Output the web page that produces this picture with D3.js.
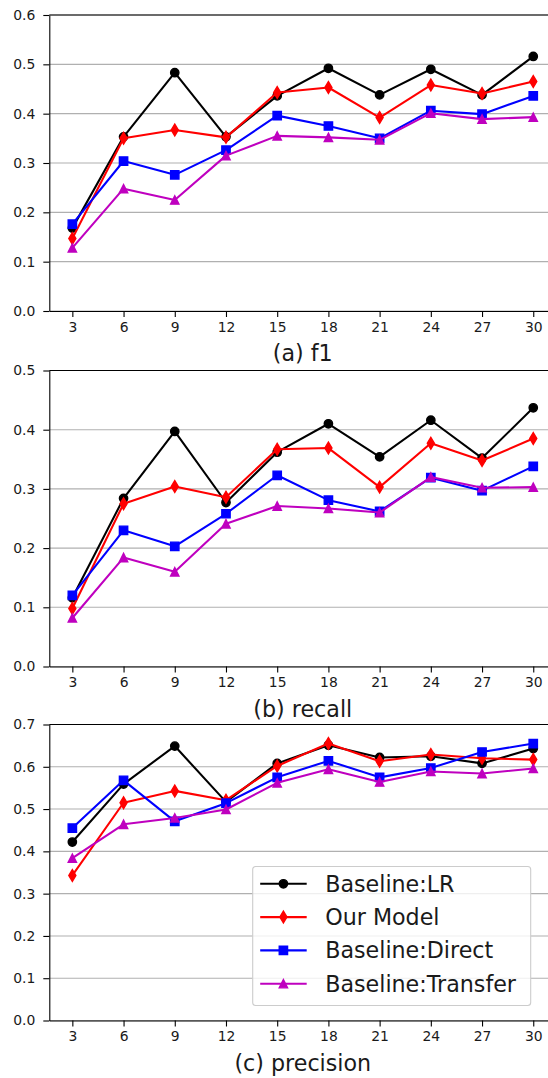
<!DOCTYPE html>
<html>
<head>
<meta charset="utf-8">
<script src="https://cdn.jsdelivr.net/npm/d3@7"></script>
<style>
  body { margin: 0; background: #fff; }
  svg { display: block; font-family: "DejaVu Sans", sans-serif; }
</style>
</head>
<body>
<svg></svg>
<script>
// x values (window size) shared by all three panels
let xValues = [3, 6, 9, 12, 15, 18, 21, 24, 27, 30]
let seriesNames = ["Baseline:LR", "Our Model", "Baseline:Direct", "Baseline:Transfer"]
let panelTitles = ["(a) f1", "(b) recall", "(c) precision"]
let yMaxes = [0.6, 0.5, 0.7]

// (a) f1
let f1LR       = [0.168, 0.353, 0.483, 0.353, 0.436, 0.492, 0.438, 0.490, 0.438, 0.516]
let f1Model    = [0.147, 0.350, 0.367, 0.352, 0.443, 0.453, 0.392, 0.458, 0.441, 0.465]
let f1Direct   = [0.176, 0.304, 0.276, 0.326, 0.396, 0.375, 0.350, 0.406, 0.399, 0.436]
let f1Transfer = [0.128, 0.248, 0.225, 0.315, 0.355, 0.352, 0.347, 0.401, 0.389, 0.393]

// (b) recall
let recLR       = [0.116, 0.284, 0.397, 0.277, 0.362, 0.410, 0.354, 0.416, 0.352, 0.437]
let recModel    = [0.098, 0.275, 0.304, 0.286, 0.367, 0.369, 0.303, 0.377, 0.348, 0.385]
let recDirect   = [0.120, 0.230, 0.203, 0.258, 0.323, 0.281, 0.262, 0.319, 0.297, 0.338]
let recTransfer = [0.082, 0.184, 0.160, 0.241, 0.271, 0.267, 0.260, 0.320, 0.302, 0.303]

// (c) precision
let precLR       = [0.422, 0.559, 0.649, 0.517, 0.608, 0.651, 0.622, 0.625, 0.608, 0.643]
let precModel    = [0.343, 0.515, 0.543, 0.521, 0.602, 0.655, 0.613, 0.629, 0.620, 0.617]
let precDirect   = [0.455, 0.568, 0.471, 0.514, 0.575, 0.614, 0.575, 0.597, 0.635, 0.655]
let precTransfer = [0.384, 0.464, 0.479, 0.499, 0.562, 0.594, 0.564, 0.589, 0.584, 0.596]

let panelData = [
  [f1LR, f1Model, f1Direct, f1Transfer],
  [recLR, recModel, recDirect, recTransfer],
  [precLR, precModel, precDirect, precTransfer]
]

let colors = ["#000000", "#ff0000", "#0000ff", "#bf00bf"]
let markers = ["circle", "thindiamond", "square", "triangle"]

let width = 548
let height = 1078
let left = 49.3
let right = 556.3          // right spine sits just past the window edge
let panelTops = [15, 370.5, 724.5]
let panelHeight = 296

let svg = d3.select("svg")
svg.attr("width", width)
svg.attr("height", height)

// matplotlib-like default marker (markersize 6pt at 100dpi)
let ms = 8.33
let markerPath = (type) => {
  let h = ms / 2
  if (type == "circle") {
    return d3.path().toString() // unused, circles drawn as <circle>
  } else if (type == "square") {
    return `M${-h},${-h}L${h},${-h}L${h},${h}L${-h},${h}Z`
  } else if (type == "thindiamond") {
    let dy = ms * Math.SQRT1_2
    let dx = dy * 0.6
    return `M0,${-dy}L${dx},0L0,${dy}L${-dx},0Z`
  } else {
    return `M0,${-h}L${h},${h}L${-h},${h}Z`
  }
}

let drawMarker = (g, type, color) => {
  if (type == "circle") {
    g.append("circle").attr("r", ms / 2)
      .attr("fill", color).attr("stroke", color).attr("stroke-width", 1.39)
  } else {
    g.append("path").attr("d", markerPath(type))
      .attr("fill", color).attr("stroke", color).attr("stroke-width", 1.39)
      .attr("stroke-linejoin", "miter")
  }
}

let xScale = d3.scaleLinear()
  .domain([3 - 1.35, 30 + 1.35])
  .range([left, right])

let drawPanel = (p) => {
  let top = panelTops[p]
  let bottom = top + panelHeight
  let yScale = d3.scaleLinear()
    .domain([0, yMaxes[p]])
    .range([bottom, top])

  let g = svg.append("g").attr("class", "panel")
  let yTicks = d3.range(0, yMaxes[p] + 0.001, 0.1)

  // horizontal grid
  g.append("g").selectAll("line")
    .data(yTicks)
    .enter()
    .append("line")
    .attr("x1", left).attr("x2", right)
    .attr("y1", (d) => yScale(d)).attr("y2", (d) => yScale(d))
    .attr("stroke", "#b0b0b0")
    .attr("stroke-width", 1.1)

  // lines + markers
  panelData[p].forEach((vals, s) => {
    let pts = xValues.map((x, i) => [x, vals[i]])
    let line = d3.line()
      .x((d) => xScale(d[0]))
      .y((d) => yScale(d[1]))
    let sg = g.append("g")
    sg.append("path")
      .datum(pts)
      .attr("d", line)
      .attr("fill", "none")
      .attr("stroke", colors[s])
      .attr("stroke-width", 2.08)
      .attr("stroke-linejoin", "round")
    sg.selectAll("g.mk")
      .data(pts)
      .enter()
      .append("g")
      .attr("class", "mk")
      .attr("transform", (d) => "translate(" + xScale(d[0]) + "," + yScale(d[1]) + ")")
      .each(function () { drawMarker(d3.select(this), markers[s], colors[s]) })
  })

  // axes
  let yAxis = d3.axisLeft(yScale)
    .tickValues(yTicks)
    .tickFormat(d3.format(".1f"))
    .tickSize(6)
    .tickSizeOuter(0)
    .tickPadding(8)
  let yg = g.append("g")
    .attr("transform", "translate(" + left + ",0)")
    .call(yAxis)

  let xAxis = d3.axisBottom(xScale)
    .tickValues(xValues)
    .tickSize(6)
    .tickSizeOuter(0)
    .tickPadding(5)
  let xg = g.append("g")
    .attr("transform", "translate(0," + bottom + ")")
    .call(xAxis)

  ;[yg, xg].forEach((a) => {
    a.select(".domain").attr("stroke", "#000").attr("stroke-width", 1.1)
    a.selectAll(".tick line").attr("stroke", "#000").attr("stroke-width", 1.1)
    a.selectAll(".tick text")
      .attr("fill", "#1a1a1a")
      .style("font-size", "13.9px")
      .style("font-family", "DejaVu Sans")
  })

  // top spine
  g.append("line")
    .attr("x1", left).attr("x2", right)
    .attr("y1", top).attr("y2", top)
    .attr("stroke", "#000").attr("stroke-width", 1.1)

  // panel label under the axis
  g.append("text")
    .attr("x", (left + right) / 2)
    .attr("y", bottom + 42.5)
    .attr("dy", "0.36em")
    .attr("text-anchor", "middle")
    .attr("fill", "#1a1a1a")
    .style("font-size", "22.2px")
    .text(panelTitles[p])

  return { yScale, top, bottom }
}

let drawLegend = (panel) => {
  let boxRight = right - 25.6
  let boxBottom = panel.bottom - 15
  let boxW = 278
  let boxH = 139
  let lg = svg.append("g")
    .attr("transform", "translate(" + (boxRight - boxW) + "," + (boxBottom - boxH) + ")")
  lg.append("rect")
    .attr("width", boxW).attr("height", boxH)
    .attr("rx", 3).attr("ry", 3)
    .attr("fill", "#fff").attr("fill-opacity", 0.8)
    .attr("stroke", "#cccccc").attr("stroke-width", 1.1)

  seriesNames.forEach((name, i) => {
    let cy = 17.3 + i * 33.3
    let row = lg.append("g").attr("transform", "translate(0," + cy + ")")
    row.append("line")
      .attr("x1", 7.5).attr("x2", 54)
      .attr("stroke", colors[i]).attr("stroke-width", 2.08)
    let m = row.append("g").attr("transform", "translate(30.7,0)")
    drawMarker(m, markers[i], colors[i])
    row.append("text")
      .attr("x", 72.5)
      .attr("dy", "0.36em")
      .attr("fill", "#1a1a1a")
      .style("font-size", "22.2px")
      .text(name)
  })
}

let panels = [0, 1, 2].map(drawPanel)
drawLegend(panels[2])
</script>
</body>
</html>
